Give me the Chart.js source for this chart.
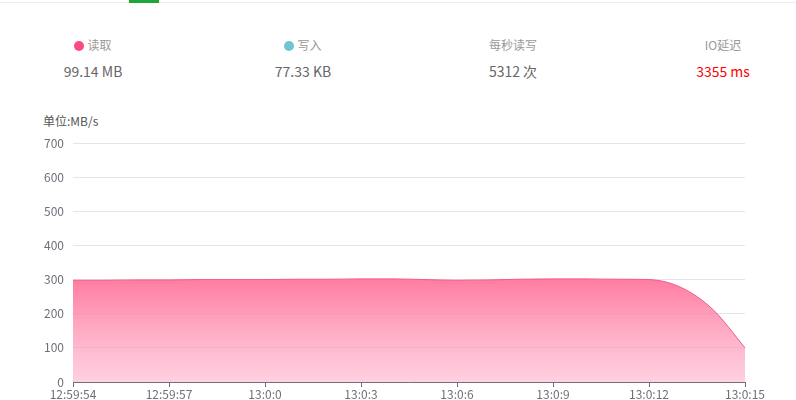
<!DOCTYPE html>
<html>
<head>
<meta charset="utf-8">
<script src="https://cdn.jsdelivr.net/npm/chart.js@4.4.1/dist/chart.umd.min.js"></script>
<style>
  html, body { margin: 0; padding: 0; background: #fff; }
  body { width: 796px; height: 400px; position: relative; overflow: hidden;
         font-family: "Microsoft YaHei", "Noto Sans CJK SC", "Noto Sans", sans-serif; }
  .topline { position: absolute; left: 0; top: 2px; width: 796px; height: 1px; background: #ececec; }
  .tab { position: absolute; left: 129px; top: 0; width: 30px; height: 3px; background: #20a53a; }
  .col { position: absolute; width: 210px; text-align: center; }
  .lbl { top: 37px; font-size: 12px; color: #999; line-height: 16px; }
  .val { top: 62px; font-size: 14px; color: #666; line-height: 18px; }
  .dot { display: inline-block; width: 10px; height: 10px; border-radius: 50%; vertical-align: -1px; margin-right: 3px; }
  .unit { position: absolute; left: 43px; top: 113px; font-size: 12px; color: #555; line-height: 16px; }
  #wrap { position: absolute; left: 0; top: 0; width: 796px; height: 400px; }
</style>
</head>
<body>
<div class="topline"></div>
<div class="tab"></div>

<div class="col lbl" style="left:-12px"><span class="dot" style="background:#fd4a80"></span>读取</div>
<div class="col lbl" style="left:198px"><span class="dot" style="background:#6ec6d2"></span>写入</div>
<div class="col lbl" style="left:408px">每秒读写</div>
<div class="col lbl" style="left:618px">IO延迟</div>

<div class="col val" style="left:-12px">99.14 MB</div>
<div class="col val" style="left:198px">77.33 KB</div>
<div class="col val" style="left:408px">5312 次</div>
<div class="col val" style="left:618px;color:#f00">3355 ms</div>

<div class="unit">单位:MB/s</div>

<div id="wrap"><canvas id="ioCanvas"></canvas></div>

<script>
// x-axis seconds, one point per second
var times = ['12:59:54', '12:59:55', '12:59:56', '12:59:57', '12:59:58', '12:59:59',
             '13:0:0', '13:0:1', '13:0:2', '13:0:3', '13:0:4', '13:0:5',
             '13:0:6', '13:0:7', '13:0:8', '13:0:9', '13:0:10', '13:0:11',
             '13:0:12', '13:0:13', '13:0:14', '13:0:15'];
// read speed, MB/s
var readSpeed = [298, 298, 299, 299, 300, 300,
                 300, 301, 301, 302, 302, 300,
                 298, 299, 301, 302, 302, 301,
                 300, 277, 212, 100];
var yTicks = [0, 100, 200, 300, 400, 500, 600, 700];

var axisColor = '#6E7079';

function areaFill(ctx) {
    var chart = ctx.chart;
    var area = chart.chartArea;
    if (!area) return 'rgba(255,102,143,0.85)';
    var top = chart.scales.y.getPixelForValue(300);
    var g = chart.ctx.createLinearGradient(0, top, 0, area.bottom);
    g.addColorStop(0, 'rgba(255,102,143,0.85)');
    g.addColorStop(1, 'rgba(255,177,205,0.6)');
    return g;
}

new Chart(document.getElementById('ioCanvas'), {
    type: 'line',
    data: {
        labels: times,
        datasets: [{
            label: '读取',
            data: readSpeed,
            borderColor: '#f5588a',
            borderWidth: 1,
            backgroundColor: areaFill,
            fill: 'origin',
            pointRadius: 0,
            cubicInterpolationMode: 'monotone'
        }]
    },
    options: {
        responsive: true,
        maintainAspectRatio: false,
        animation: false,
        layout: { padding: { left: 0, right: 51, top: 143, bottom: 0 } },
        plugins: { legend: { display: false }, tooltip: { enabled: false } },
        scales: {
            x: {
                offset: false,
                afterFit: function (s) { s.height = 18; },
                border: { display: true, color: axisColor, width: 1 },
                grid: {
                    drawOnChartArea: false,
                    drawTicks: true,
                    tickLength: 5,
                    tickColor: function (c) { return c.index % 3 === 0 ? axisColor : 'rgba(0,0,0,0)'; }
                },
                ticks: {
                    autoSkip: false,
                    maxRotation: 0,
                    padding: 0,
                    color: axisColor,
                    font: { size: 12, family: '"Microsoft YaHei", "Noto Sans CJK SC", sans-serif' },
                    callback: function (v, i) { return i % 3 === 0 ? times[i] : ''; }
                }
            },
            y: {
                min: yTicks[0],
                max: yTicks[yTicks.length - 1],
                afterFit: function (s) { s.width = 73; },
                afterBuildTicks: function (s) { s.ticks = yTicks.map(function (v) { return { value: v }; }); },
                border: { display: false },
                grid: { color: '#E0E6F1', drawTicks: false },
                ticks: {
                    padding: 9,
                    color: axisColor,
                    font: { size: 12, family: '"Microsoft YaHei", "Noto Sans CJK SC", sans-serif' }
                }
            }
        }
    }
});
</script>
</body>
</html>
